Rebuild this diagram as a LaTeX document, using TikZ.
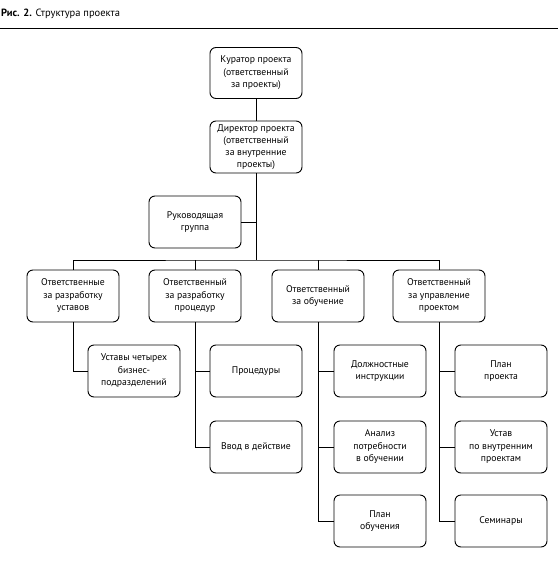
\documentclass[tikz,border=0pt]{standalone}
\usepackage{fontspec}
\setmainfont{PT Sans}
\begin{document}
\begin{tikzpicture}[x=1pt,y=-1pt,
  box/.style={draw,line width=0.9pt,rounded corners=6pt,minimum width=92pt,minimum height=52pt,
    align=center,font=\fontsize{9.7}{12.5}\selectfont,inner sep=1pt},
  conn/.style={line width=0.8pt}]
\useasboundingbox (0,0) rectangle (558,565);
\node[anchor=west,font=\fontsize{10.5}{12}\selectfont,inner sep=0pt] (title) at (1,14) {\textbf{Рис. 2.} Структура проекта};
\coordinate (rl) at (0,28);
\coordinate (rr) at (558,28);
\draw[line width=0.9pt] (rl) -- (rr);
\node[box,minimum height=51pt] (cur) at (256,73) {Куратор проекта\\(ответственный\\за проекты)};
\node[box,minimum height=52pt,font=\fontsize{9.7}{12}\selectfont] (dir) at (256,147) {Директор проекта\\(ответственный\\за внутренние\\проекты)};
\node[box] (ruk) at (195,222) {Руководящая\\группа};
\node[box] (b1) at (73,296) {Ответственные\\за разработку\\уставов};
\node[box] (b2) at (195,296) {Ответственный\\за разработку\\процедур};
\node[box] (b3) at (318,296) {Ответственный\\за обучение};
\node[box] (b4) at (439,296) {Ответственный\\за управление\\проектом};
\node[box] (c1) at (134,371) {Уставы четырех\\бизнес-\\подразделений};
\node[box] (p1) at (256,371) {Процедуры};
\node[box] (p2) at (256,447) {Ввод в действие};
\node[box] (t1) at (380,371) {Должностные\\инструкции};
\node[box] (t2) at (380,447) {Анализ\\потребности\\в обучении};
\node[box] (t3) at (380,521) {План\\обучения};
\node[box] (u1) at (501,371) {План\\проекта};
\node[box] (u2) at (501,447) {Устав\\по внутренним\\проектам};
\node[box] (u3) at (501,521) {Семинары};
\coordinate (bus) at (256,260);
\draw[conn] (cur.south) -- (dir.north);
\draw[conn] (dir.south) -- (bus);
\draw[conn] (ruk.east) -- (ruk.east -| bus);
\draw[conn] (b1.north) |- (bus) -| (b4.north);
\draw[conn] (b2.north) -- (b2.north |- bus);
\draw[conn] (b3.north) -- (b3.north |- bus);
\draw[conn] (b1.south) |- (c1.west);
\draw[conn] (b2.south) |- (p2.west);
\draw[conn] (b2.south |- p1.west) -- (p1.west);
\draw[conn] (b3.south) |- (t3.west);
\draw[conn] (b3.south |- t1.west) -- (t1.west);
\draw[conn] (b3.south |- t2.west) -- (t2.west);
\draw[conn] (b4.south) |- (u3.west);
\draw[conn] (b4.south |- u1.west) -- (u1.west);
\draw[conn] (b4.south |- u2.west) -- (u2.west);
\end{tikzpicture}
\end{document}
